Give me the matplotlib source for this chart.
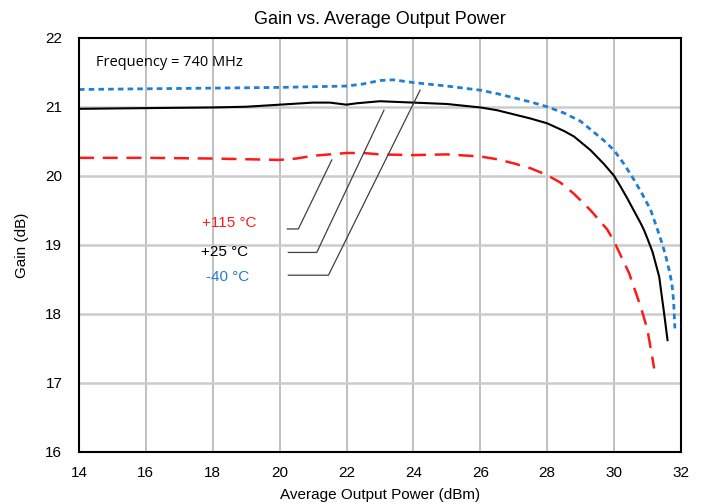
import numpy as np
import matplotlib.pyplot as plt

plt.rcParams['font.family'] = ['Liberation Sans', 'DejaVu Sans']

# -40 C (blue, dotted)
x_cold = [14, 16, 18, 20, 22, 22.5, 23, 23.4, 24, 25, 26, 26.5, 27, 27.5, 28, 28.5,
          29, 29.4, 29.7, 30, 30.3, 30.6, 30.85, 31.1, 31.3, 31.45, 31.55, 31.65,
          31.73, 31.78, 31.8, 31.82]
g_cold = [21.25, 21.26, 21.27, 21.28, 21.30, 21.33, 21.38, 21.39, 21.35, 21.30, 21.24,
          21.19, 21.13, 21.07, 21.00, 20.91, 20.79, 20.63, 20.51, 20.37, 20.17, 19.94,
          19.73, 19.50, 19.22, 19.00, 18.83, 18.63, 18.44, 18.20, 18.00, 17.79]

# +25 C (black, solid)
x_room = [14, 16, 18, 19, 20, 21, 21.5, 22, 22.3, 23, 24, 25, 26, 26.5, 27, 27.5, 28,
          28.5, 28.8, 29.3, 29.7, 30, 30.2, 30.4, 30.6, 30.8, 30.9, 31.0, 31.15, 31.35,
          31.5, 31.6]
g_room = [20.97, 20.98, 20.99, 21.00, 21.03, 21.06, 21.06, 21.03, 21.05, 21.08, 21.06,
          21.04, 20.99, 20.95, 20.89, 20.83, 20.76, 20.65, 20.57, 20.37, 20.17, 20.00,
          19.84, 19.67, 19.49, 19.31, 19.21, 19.09, 18.90, 18.54, 18.00, 17.62]

# +115 C (red, dashed)
x_hot = [14, 16, 18, 19, 20, 20.5, 21, 21.5, 22, 22.5, 23, 24, 25, 26, 26.5, 27, 27.5,
         28, 28.4, 28.8, 29.3, 29.8, 30, 30.45, 30.8, 31.0, 31.2]
g_hot = [20.26, 20.26, 20.25, 20.24, 20.23, 20.25, 20.29, 20.31, 20.33, 20.33, 20.31,
         20.30, 20.31, 20.28, 20.24, 20.18, 20.11, 20.01, 19.90, 19.74, 19.50, 19.22,
         19.05, 18.59, 18.10, 17.77, 17.21]

xticks = np.arange(14, 33, 2)
yticks = np.arange(16, 23, 1)

fig = plt.figure(figsize=(7.04, 5.04), dpi=100)
ax = fig.add_axes([0.1122, 0.1032, 0.855, 0.822])

for xt in xticks[1:-1]:
    ax.axvline(xt, color='#b4b4b4', lw=1.2, zorder=0)
for yt in yticks[1:-1]:
    ax.axhline(yt, color='#cccccc', lw=1.8, zorder=0)

ax.plot(x_cold, g_cold, color='#1f7fd0', lw=2, dashes=(2, 1.5))
ax.plot(x_room, g_room, color='black', lw=1.5)
ax.plot(x_hot, g_hot, color='#ff1a1a', lw=1.8, dashes=(6, 3.5))

# leader lines
ax.plot([20.23, 20.56, 21.56], [19.23, 19.23, 20.23], color='#404040', lw=0.9)
ax.plot([20.26, 21.11, 23.12], [18.89, 18.89, 20.95], color='#404040', lw=0.9)
ax.plot([20.26, 21.46, 24.2], [18.56, 18.56, 21.24], color='#404040', lw=0.9)

ax.text(18.5, 19.32, '+115 °C', color='#ff1a1a', fontsize=11, ha='center', va='center')
ax.text(18.35, 18.9, '+25 °C', color='black', fontsize=11, ha='center', va='center')
ax.text(18.45, 18.53, '-40 °C', color='#1f7fd0', fontsize=11, ha='center', va='center')

ax.text(14.52, 21.64, 'Frequency = 740 MHz', fontsize=10.5, va='center',
        family=['Open Sans', 'DejaVu Sans'])

ax.set_xlim(14, 32)
ax.set_ylim(16, 22)
ax.set_xticks(xticks)
ax.set_yticks(yticks)
ax.tick_params(axis='x', length=0, labelsize=11, pad=10)
ax.tick_params(axis='y', length=0, labelsize=11, pad=12)
for s in ax.spines.values():
    s.set_color('black')
    s.set_linewidth(1.5)

ax.set_xlabel('Average Output Power (dBm)', fontsize=11, labelpad=6)
ax.set_ylabel('Gain (dB)', fontsize=11, labelpad=12)
ax.set_title('Gain vs. Average Output Power', fontsize=13, pad=10)

fig.savefig('out.png', dpi=100)
